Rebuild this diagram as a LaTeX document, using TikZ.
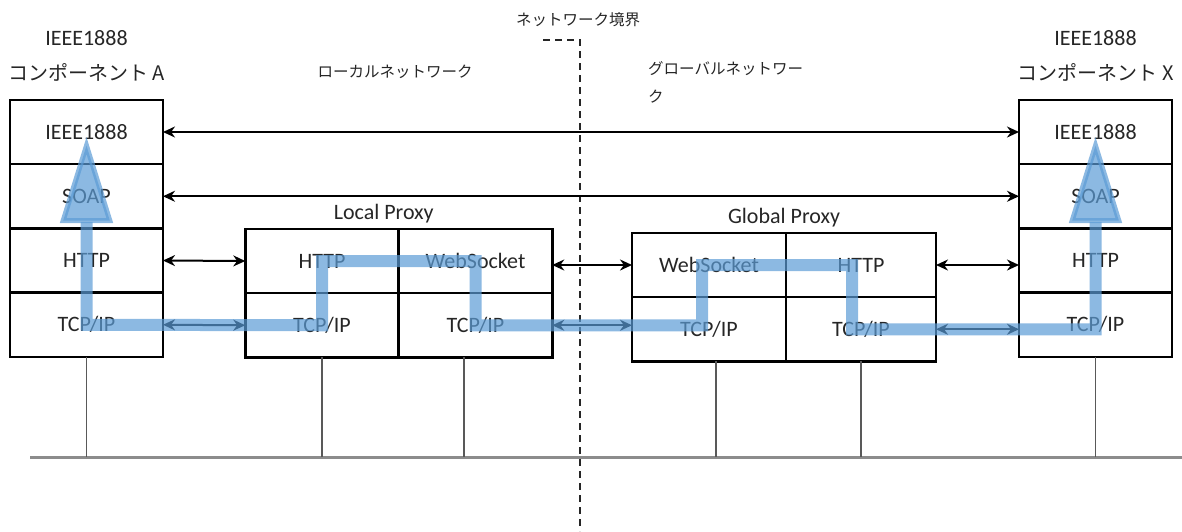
\documentclass[tikz,border=0pt]{standalone}
\usepackage{fontspec}
\setmainfont{Carlito}
\newfontfamily\jp{Noto Sans CJK JP}
\usepackage{tikz}
\usetikzlibrary{positioning, arrows.meta}
\definecolor{flowblue}{RGB}{91,155,213}
\tikzstyle{layer} = [rectangle, draw=black, line width=2.6pt, minimum width=153pt, minimum height=64.25pt, inner sep=0pt, outer sep=0pt, font=\fontsize{22pt}{26pt}\selectfont, text=black!85]
\tikzstyle{arrow} = [line width=2pt, <->, >={Stealth[length=12pt,width=11pt]}]
\tikzstyle{drop} = [line width=1.1pt, draw=black!65]
\tikzstyle{bus} = [line width=3pt, draw=black!45]
\tikzstyle{border} = [line width=1.6pt, draw=black!85, dash pattern=on 7pt off 5pt]
\tikzstyle{flow} = [line width=12pt, draw=flowblue, opacity=0.7, {Triangle[width=52pt,length=86pt,line width=5pt]}-{Triangle[width=52pt,length=86pt,line width=5pt]}]
\tikzstyle{title} = [inner sep=0pt, font=\fontsize{22pt}{26pt}\selectfont, text=black!85]
\tikzstyle{compname} = [inner sep=0pt, font=\jp\fontsize{20pt}{24pt}\selectfont, text=black!85]
\tikzstyle{netlabel} = [inner sep=0pt, font=\jp\fontsize{15.5pt}{28pt}\selectfont, text=black!85]

\begin{document}
\begin{tikzpicture}[x=1pt, y=-1pt]
		\useasboundingbox (0,0) rectangle (1182,531);
		% network boundary
		\node (nbLabel) [netlabel] at (578,20) {ネットワーク境界};
		\coordinate (bdTop) at (580,40);
		\draw [border] (543,40) -- (bdTop) -- (580,531);
		\node (lnLabel) [netlabel] at (395,72) {ローカルネットワーク};
		\node (gnLabel) [netlabel, align=left, anchor=north west] at (648,61) {グローバルネットワー\\ク};
		
		% component A
		\node (aIeee) [layer] at (86.5,132) {IEEE1888};
		\node (aSoap) [layer, below=0pt of aIeee] {SOAP};
		\node (aHttp) [layer, below=0pt of aSoap] {HTTP};
		\node (aTcp) [layer, below=0pt of aHttp] {TCP/IP};
		\node (aTitle) [title] at (86.5,38) {IEEE1888};
		\node (aName) [compname] at (86.5,72) {コンポーネント A};
		
		% local proxy
		\node (lpHttp) [layer, minimum width=153.5pt] at (322,261) {HTTP};
		\node (lpWs) [layer, minimum width=153.5pt, right=0pt of lpHttp] {WebSocket};
		\node (lpTcp1) [layer, minimum width=153.5pt, below=0pt of lpHttp] {TCP/IP};
		\node (lpTcp2) [layer, minimum width=153.5pt, below=0pt of lpWs] {TCP/IP};
		\node (lpName) [title, above=6pt of lpHttp.north east, xshift=-15pt] {Local Proxy};
		
		% global proxy
		\node (gpWs) [layer, minimum width=154pt] at (709,265) {WebSocket};
		\node (gpHttp) [layer, minimum width=150pt, right=0pt of gpWs] {HTTP};
		\node (gpTcp1) [layer, minimum width=154pt, below=0pt of gpWs] {TCP/IP};
		\node (gpTcp2) [layer, minimum width=150pt, below=0pt of gpHttp] {TCP/IP};
		\node (gpName) [title, above=6pt of gpWs.north east, xshift=-2pt] {Global Proxy};
		
		% component X
		\node (xIeee) [layer] at (1095.5,132) {IEEE1888};
		\node (xSoap) [layer, below=0pt of xIeee] {SOAP};
		\node (xHttp) [layer, below=0pt of xSoap] {HTTP};
		\node (xTcp) [layer, below=0pt of xHttp] {TCP/IP};
		\node (xTitle) [title] at (1095.5,38) {IEEE1888};
		\node (xName) [compname] at (1095.5,72) {コンポーネント X};
		
		% bus
		\coordinate (busL) at (30,457);
		\coordinate (busR) at (1182,457);
		\coordinate (lpDrop) at ([xshift=-11.5pt]lpTcp2.south);
		\coordinate (gpDrop) at ([xshift=7pt]gpTcp1.south);
		\draw [bus] (busL) -- (busR);
		\draw [drop] (aTcp.south) -- (aTcp.south |- busL);
		\draw [drop] (lpTcp1.south) -- (lpTcp1.south |- busL);
		\draw [drop] (lpDrop) -- (lpDrop |- busL);
		\draw [drop] (gpDrop) -- (gpDrop |- busL);
		\draw [drop] (gpTcp2.south) -- (gpTcp2.south |- busL);
		\draw [drop] (xTcp.south) -- (xTcp.south |- busL);
		
		% peer links
		\draw [arrow] (aIeee.east) -- (xIeee.west);
		\draw [arrow] (aSoap.east) -- (xSoap.west);
		\draw [arrow] (aHttp.east) -- (lpHttp.west);
		\draw [arrow] (aTcp.east) -- (lpTcp1.west);
		\draw [arrow] (gpWs.west -| lpWs.east) -- (gpWs.west);
		\draw [arrow] (lpTcp2.east) -- (lpTcp2.east -| gpTcp1.west);
		\draw [arrow] (gpHttp.east) -- (gpHttp.east -| xHttp.west);
		\draw [arrow] (gpTcp2.east) -- (gpTcp2.east -| xTcp.west);
		
		% data flow
		\coordinate (gpTurnA) at ([xshift=-7pt]gpWs.center);
		\coordinate (gpTurnB) at ([xshift=-9pt]gpHttp.center);
		\draw [flow] ([yshift=-5pt]aIeee.center) -- (aTcp.center) -- (lpTcp1.center) -- (lpHttp.center) -- (lpHttp.center -| lpWs.center) -- (lpTcp2.center) -- (lpTcp2.center -| gpTurnA) -- (gpTurnA) -- (gpTurnB) -- (gpTurnB |- gpTcp2.center) -- (gpTcp2.center -| xTcp.center) -- ([yshift=-5pt]xIeee.center);
		
	\end{tikzpicture}
\end{document}
